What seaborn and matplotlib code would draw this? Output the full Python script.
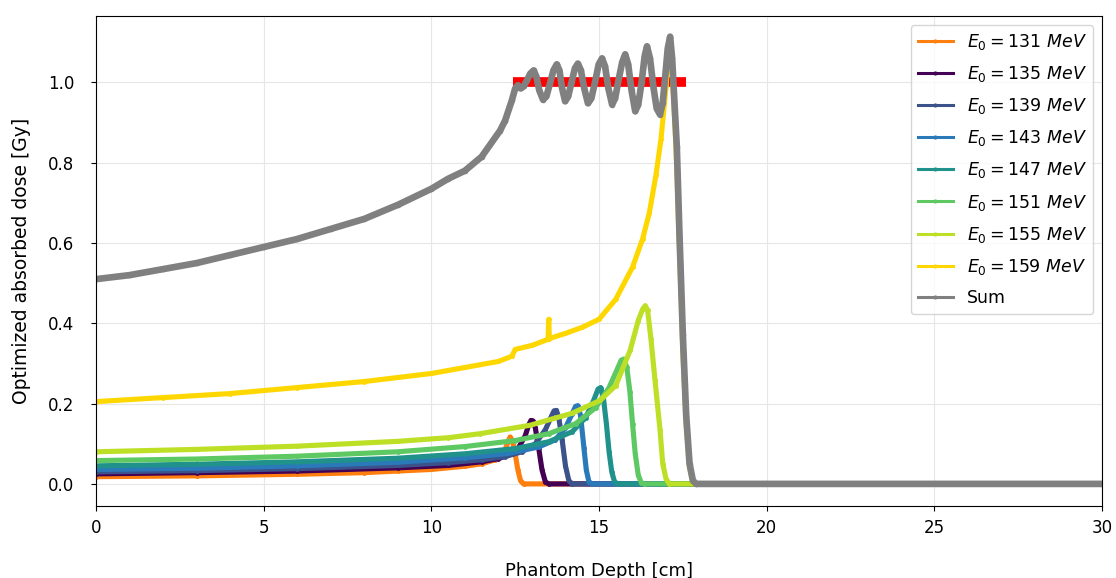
import matplotlib
matplotlib.use("Agg")
import matplotlib.pyplot as plt
import numpy as np
import pandas as pd
import seaborn as sns

# ---------------- data ----------------
series_labels = [r"$E_0 = 131\ MeV$", r"$E_0 = 135\ MeV$", r"$E_0 = 139\ MeV$",
                 r"$E_0 = 143\ MeV$", r"$E_0 = 147\ MeV$", r"$E_0 = 151\ MeV$",
                 r"$E_0 = 155\ MeV$", r"$E_0 = 159\ MeV$", "Sum"]

depth_131 = [0, 3, 6, 8, 9, 10, 11, 11.5, 11.9, 12.1, 12.2, 12.28, 12.35, 12.42, 12.5, 12.58, 12.66, 12.75, 30]
dose_131 = [0.018, 0.020, 0.024, 0.028, 0.032, 0.036, 0.044, 0.050, 0.060, 0.072, 0.084, 0.105, 0.117, 0.108, 0.075, 0.035, 0.008, 0.0, 0.0]

depth_135 = [0, 3, 6, 9, 10.5, 11.5, 12.0, 12.4, 12.6, 12.8, 12.9, 12.97, 13.03, 13.1, 13.2, 13.3, 13.4, 13.5, 30]
dose_135 = [0.025, 0.028, 0.032, 0.040, 0.046, 0.055, 0.063, 0.075, 0.090, 0.120, 0.146, 0.158, 0.157, 0.140, 0.090, 0.035, 0.005, 0.0, 0.0]

depth_139 = [0, 3, 6, 9, 10.5, 11.5, 12.2, 12.7, 13.1, 13.4, 13.58, 13.66, 13.73, 13.8, 13.9, 14.0, 14.1, 14.2, 30]
dose_139 = [0.030, 0.033, 0.038, 0.046, 0.053, 0.060, 0.068, 0.080, 0.100, 0.135, 0.168, 0.182, 0.183, 0.165, 0.110, 0.045, 0.008, 0.0, 0.0]

depth_143 = [0, 3, 6, 9, 11, 12.3, 13.2, 13.7, 14.0, 14.2, 14.3, 14.37, 14.45, 14.55, 14.62, 14.7, 14.8, 30]
dose_143 = [0.036, 0.039, 0.045, 0.054, 0.065, 0.076, 0.092, 0.110, 0.140, 0.175, 0.193, 0.195, 0.170, 0.090, 0.035, 0.005, 0.0, 0.0]

depth_147 = [0, 3, 6, 9, 11, 12.5, 13.5, 14.2, 14.6, 14.85, 14.97, 15.05, 15.13, 15.22, 15.3, 15.38, 15.46, 15.55, 30]
dose_147 = [0.045, 0.049, 0.055, 0.064, 0.075, 0.088, 0.105, 0.130, 0.165, 0.210, 0.236, 0.240, 0.215, 0.150, 0.080, 0.030, 0.006, 0.0, 0.0]

depth_151 = [0, 3, 6, 9, 11, 12.5, 13.5, 14.3, 14.9, 15.3, 15.55, 15.66, 15.74, 15.83, 15.92, 16.0, 16.08, 16.17, 16.26, 16.35, 30]
dose_151 = [0.058, 0.062, 0.069, 0.080, 0.093, 0.108, 0.125, 0.150, 0.190, 0.240, 0.287, 0.308, 0.311, 0.290, 0.230, 0.150, 0.075, 0.022, 0.003, 0.0, 0.0]

depth_155 = [0, 3, 6, 9, 10.5, 11.45, 12.94, 14.2, 15.03, 15.5, 15.93, 16.17, 16.3, 16.38, 16.45, 16.55, 16.67, 16.82, 16.9, 17.0, 17.1, 30]
dose_155 = [0.080, 0.086, 0.094, 0.106, 0.115, 0.125, 0.146, 0.176, 0.208, 0.245, 0.333, 0.407, 0.435, 0.444, 0.432, 0.360, 0.258, 0.134, 0.050, 0.012, 0.0, 0.0]

depth_159 = [0, 2, 4, 6, 8, 10, 11, 12, 12.4, 12.5, 13.0, 13.48, 13.5, 13.52, 14.0, 14.5, 15.0, 15.5, 16.0,
             16.3, 16.5, 16.7, 16.85, 17.0, 17.08, 17.14, 17.2, 17.3, 17.4, 17.5, 17.6, 17.7, 17.8, 17.9, 30]
dose_159 = [0.205, 0.215, 0.225, 0.240, 0.255, 0.275, 0.290, 0.305, 0.318, 0.335, 0.345, 0.360, 0.410, 0.362, 0.375, 0.390,
            0.410, 0.460, 0.540, 0.610, 0.675, 0.770, 0.860, 0.990, 1.085, 1.095, 1.000, 0.830, 0.580, 0.330, 0.145, 0.040, 0.003, 0.0, 0.0]

depth_sum = [0, 1, 2, 3, 4, 5, 6, 7, 8, 9, 10, 10.5, 11, 11.5, 12.05, 12.2,
             12.4, 12.5, 12.58, 12.66, 12.75, 12.85, 12.95, 13.05, 13.13, 13.22, 13.33, 13.43, 13.53, 13.64, 13.74,
             13.82, 13.9, 13.99, 14.08, 14.18, 14.28, 14.37, 14.46, 14.56, 14.67, 14.77, 14.88, 14.99, 15.09,
             15.18, 15.28, 15.39, 15.48, 15.58, 15.69, 15.78, 15.87, 15.97, 16.08, 16.17, 16.27, 16.36, 16.43,
             16.52, 16.62, 16.72, 16.82, 16.9, 16.98, 17.05, 17.12, 17.18, 17.25, 17.32, 17.4, 17.5, 17.6, 17.7,
             17.8, 17.9, 30]
dose_sum = [0.510, 0.520, 0.535, 0.550, 0.570, 0.590, 0.610, 0.635, 0.660, 0.695, 0.735, 0.760, 0.780, 0.815, 0.880, 0.905,
            0.955, 0.985, 0.993, 0.985, 0.990, 1.005, 1.022, 1.030, 1.015, 0.980, 0.957, 0.965, 0.995, 1.030, 1.045,
            1.030, 0.985, 0.953, 0.965, 1.000, 1.035, 1.047, 1.030, 0.985, 0.948, 0.960, 1.000, 1.045, 1.060,
            1.040, 0.985, 0.945, 0.960, 1.005, 1.050, 1.070, 1.045, 0.980, 0.928, 0.945, 1.000, 1.065, 1.090,
            1.060, 0.990, 0.935, 0.920, 0.950, 1.020, 1.085, 1.114, 1.060, 0.950, 0.840, 0.620, 0.370, 0.170, 0.050,
            0.008, 0.0, 0.0]

target_depth = [12.45, 17.6]
target_dose = [1.0, 1.0]

series_depths = [depth_131, depth_135, depth_139, depth_143, depth_147, depth_151, depth_155, depth_159, depth_sum]
series_doses = [dose_131, dose_135, dose_139, dose_143, dose_147, dose_151, dose_155, dose_159, dose_sum]

series_colors = ["#ff7f0e", "#440154", "#3b528b", "#2a7ab9", "#21918c", "#5ec962", "#bddf26", "#ffd700", "#808080"]

x_ticks = [0, 5, 10, 15, 20, 25, 30]
y_ticks = [0.0, 0.2, 0.4, 0.6, 0.8, 1.0]

# ---------------- build table ----------------
frames = []
for lab, d, v in zip(series_labels, series_depths, series_doses):
    frames.append(pd.DataFrame({"depth": d, "dose": v, "series": lab}))
df = pd.concat(frames, ignore_index=True)
palette = dict(zip(series_labels, series_colors))

# ---------------- plot ----------------
fig, ax = plt.subplots(figsize=(11.16, 5.78), dpi=100)
fig.subplots_adjust(left=0.086, right=0.9875, top=0.972, bottom=0.1246)

ax.grid(True, color="#e6e6e6", linewidth=0.8)
ax.set_axisbelow(True)

sns.lineplot(x=target_depth, y=target_dose, color="red", linewidth=7, legend=False, ax=ax,
             zorder=1, solid_capstyle="butt")

sns.lineplot(data=df, x="depth", y="dose", hue="series", hue_order=series_labels,
             palette=palette, estimator=None, errorbar=None, sort=True,
             marker=".", markersize=7, markeredgewidth=0, linewidth=3.7, ax=ax, zorder=2)

for ln in ax.lines:
    if matplotlib.colors.to_hex(ln.get_color()) == "#808080":
        ln.set_linewidth(4.8)
        ln.set_markersize(8)

handles, labels = ax.get_legend_handles_labels()
leg = ax.legend(handles, labels, loc="upper right", fontsize=12.5, labelspacing=0.7,
                handlelength=2.0, borderaxespad=0.5)
for h in leg.legend_handles:
    h.set_linewidth(2.2)
    h.set_markersize(6)

ax.set_xlim(0, 30)
ax.set_ylim(-0.055, 1.165)
ax.set_xticks(x_ticks)
ax.set_yticks(y_ticks)
ax.set_yticklabels([f"{t:.1f}" for t in y_ticks])
ax.tick_params(axis="y", labelsize=12, pad=12)
ax.tick_params(axis="x", labelsize=12, pad=6)

ax.set_xlabel("Phantom Depth [cm]", fontsize=13, labelpad=18)
ax.set_ylabel("Optimized absorbed dose [Gy]", fontsize=13.5, labelpad=12)

fig.savefig("out.png", dpi=100)
